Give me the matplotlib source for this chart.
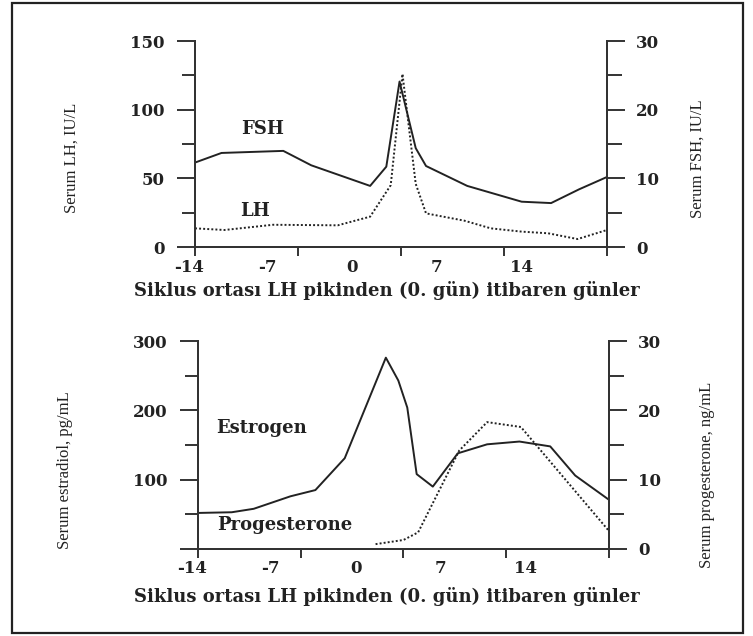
import matplotlib
matplotlib.use('Agg')
import matplotlib.pyplot as plt
import matplotlib.transforms as mtransforms
from matplotlib.patches import Rectangle

# day ticks and the (shifted) positions where their labels sit
day_ticks = [-14, -7, 0, 7, 14]
day_labels = ['-14', '-7', '0', '7', '14']
top_label_pos = [-14.4, -9.1, -3.3, 2.4, 8.2]
bot_label_pos = [-14.4, -9.1, -3.2, 2.5, 8.3]

# top panel: LH (left axis, IU/L) and FSH (right axis, IU/L)
fsh_days = [-14, -12.2, -8, -6.1, -2.1, -1, -0.1, 1, 1.7, 4.5, 8.2, 10.2, 12.1, 14]
fsh_vals = [12.3, 13.7, 14.0, 11.9, 8.9, 11.7, 24.1, 14.4, 11.8, 8.9, 6.6, 6.4, 8.4, 10.2]
lh_days = [-14, -12, -8.7, -4.3, -2.1, -0.7, 0.1, 1, 1.7, 4.3, 6.1, 8.2, 10, 12, 14]
lh_vals = [13.6, 12.4, 16.2, 15.8, 22.1, 45, 126, 46, 24.5, 19.2, 13.6, 11.2, 10, 5.8, 12.4]

# bottom panel: estradiol (left, pg/mL) and progesterone (right, ng/mL)
e2_days = [-14, -11.7, -10.2, -7.7, -6, -4, -1.2, -0.35, 0.26, 0.9, 2, 3.7, 5.7, 7.9, 10, 11.7, 14]
e2_vals = [52, 53, 58, 76, 85, 131, 276, 243, 204, 108, 90, 138, 151, 155, 148, 106, 71]
prog_days = [-1.9, 0, 1, 3.8, 5.7, 8, 14]
prog_vals = [0.7, 1.3, 2.4, 14.2, 18.3, 17.6, 2.6]

xlabel = 'Siklus ortası LH pikinden (0. gün) itibaren günler'
ink = '#222222'
bold = dict(family='DejaVu Serif', weight='bold', color=ink)
thin = dict(family='Liberation Serif', color=ink)

fig = plt.figure(figsize=(7.53, 6.36), dpi=100)
fig.patch.set_facecolor('white')
fig.patches.append(Rectangle((0.016, 0.005), 0.971, 0.990, transform=fig.transFigure,
                             fill=False, lw=1.6, ec=ink))


def setup(ax, ax2, ymax, major, minor, major_labels, label_pos):
    for a in (ax, ax2):
        a.spines['top'].set_visible(False)
        for s in a.spines.values():
            s.set_linewidth(1.4)
            s.set_color('#333333')
    ax.set_ylim(0, ymax)
    ax.set_yticks(major)
    ax.set_yticklabels(major_labels)
    ax.set_yticks(minor, minor=True)
    ax.tick_params(axis='y', which='major', direction='out', length=13, width=1.4,
                   pad=9, colors='#333333', labelcolor=ink)
    ax.tick_params(axis='y', which='minor', direction='out', length=9.5, width=1.4,
                   colors='#333333')
    for t in ax.get_yticklabels():
        t.set(**bold, fontsize=12)
    # x ticks: marks at day ticks, labels drawn at their own (shifted) spots
    ax.set_xticks(day_ticks)
    ax.set_xticklabels([])
    ax.tick_params(axis='x', which='major', direction='out', length=6.5, width=1.4,
                   colors='#333333')
    ax.set_xlim(-14, 14)
    ax2.set_xlim(-14, 14)
    trans = mtransforms.offset_copy(
        mtransforms.blended_transform_factory(ax.transData, ax.transAxes),
        fig=fig, y=-20, units='dots')
    for pos, lab in zip(label_pos, day_labels):
        ax.text(pos, 0, lab, transform=trans, ha='center', va='center',
                fontsize=12, clip_on=False, **bold)

    ax2.set_ylim(0, 30)
    ax2.set_yticks([0, 10, 20, 30])
    ax2.set_yticks([5, 15, 25], minor=True)
    ax2.tick_params(axis='y', which='major', direction='out', length=13, width=1.4,
                    pad=8, colors='#333333', labelcolor=ink)
    ax2.tick_params(axis='y', which='minor', direction='out', length=11, width=1.4,
                    colors='#333333')
    for t in ax2.get_yticklabels():
        t.set(**bold, fontsize=12)


# top panel
ax1 = fig.add_axes([0.259, 0.6116, 0.5471, 0.3239])
ax1b = ax1.twinx()
ax1.plot(lh_days, lh_vals, color=ink, lw=1.4, ls=(0, (1, 1.1)))
ax1b.plot(fsh_days, fsh_vals, color=ink, lw=1.4)
setup(ax1, ax1b, 150, [0, 50, 100, 150], [25, 75, 125],
      ['0', '50', '100', '150'], top_label_pos)
ax1.text(-9.4, 86, 'FSH', ha='center', va='center', fontsize=13, **bold)
ax1.text(-9.9, 26, 'LH', ha='center', va='center', fontsize=13, **bold)

# bottom panel
ax2 = fig.add_axes([0.2629, 0.1368, 0.5458, 0.3270])
ax2b = ax2.twinx()
ax2.plot(e2_days, e2_vals, color=ink, lw=1.4)
ax2b.plot(prog_days, prog_vals, color=ink, lw=1.4, ls=(0, (1, 1.1)))
setup(ax2, ax2b, 300, [0, 100, 200, 300], [50, 150, 250],
      ['', '100', '200', '300'], bot_label_pos)
ax2.text(-9.7, 174, 'Estrogen', ha='center', va='center', fontsize=13, **bold)
ax2.text(-8.1, 34, 'Progesterone', ha='center', va='center', fontsize=13, **bold)

# axis titles
fig.text(387 / 753, 1 - 291 / 636, xlabel, ha='center', va='center', fontsize=13, **bold)
fig.text(387 / 753, 1 - 597 / 636, xlabel, ha='center', va='center', fontsize=13, **bold)
fig.text(72 / 753, 1 - 158 / 636, 'Serum LH, IU/L', rotation=90, ha='center', va='center',
         fontsize=12, **thin)
fig.text(698 / 753, 1 - 159 / 636, 'Serum FSH, IU/L', rotation=90, ha='center', va='center',
         fontsize=12, **thin)
fig.text(65 / 753, 1 - 470 / 636, 'Serum estradiol, pg/mL', rotation=90, ha='center',
         va='center', fontsize=12, **thin)
fig.text(707 / 753, 1 - 475 / 636, 'Serum progesterone, ng/mL', rotation=90, ha='center',
         va='center', fontsize=12, **thin)

fig.savefig('out.png', dpi=100)
